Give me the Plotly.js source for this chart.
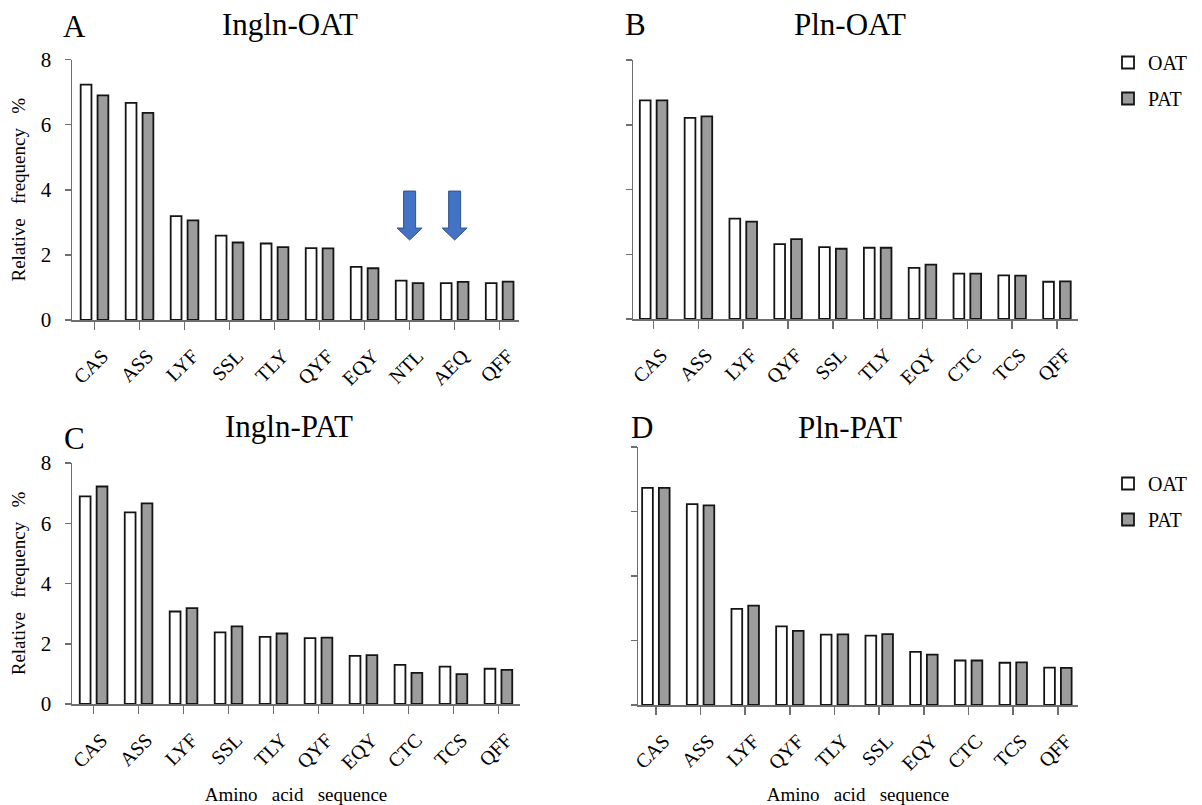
<!DOCTYPE html>
<html><head><meta charset="utf-8">
<script src="https://cdn.plot.ly/plotly-3.0.1.min.js"></script>
<style>html,body{margin:0;padding:0;background:#fff}#chart{width:1202px;height:805px}</style>
</head><body><div id="chart"></div>
<script>
// ---- data ----
const seriesNames = ['OAT', 'PAT'];
const panelTitles = ['Ingln-OAT', 'Pln-OAT', 'Ingln-PAT', 'Pln-PAT'];
const panelLetters = ['A', 'B', 'C', 'D'];
const yTicks = [0, 2, 4, 6, 8];

const catsA = ['CAS','ASS','LYF','SSL','TLY','QYF','EQY','NTL','AEQ','QFF'];
const oatA  = [7.23, 6.67, 3.19, 2.59, 2.35, 2.21, 1.63, 1.21, 1.13, 1.13];
const patA  = [6.90, 6.36, 3.06, 2.38, 2.24, 2.20, 1.59, 1.13, 1.17, 1.18];

const catsB = ['CAS','ASS','LYF','QYF','SSL','TLY','EQY','CTC','TCS','QFF'];
const oatB  = [6.75, 6.21, 3.10, 2.31, 2.22, 2.20, 1.58, 1.40, 1.35, 1.15];
const patB  = [6.75, 6.26, 3.01, 2.47, 2.17, 2.20, 1.68, 1.40, 1.34, 1.16];

const catsC = ['CAS','ASS','LYF','SSL','TLY','QYF','EQY','CTC','TCS','QFF'];
const oatC  = [6.89, 6.36, 3.07, 2.38, 2.23, 2.19, 1.60, 1.30, 1.24, 1.17];
const patC  = [7.22, 6.66, 3.18, 2.58, 2.34, 2.20, 1.62, 1.03, 0.99, 1.13];

const catsD = ['CAS','ASS','LYF','QYF','TLY','SSL','EQY','CTC','TCS','QFF'];
const oatD  = [6.73, 6.23, 2.98, 2.44, 2.18, 2.15, 1.65, 1.38, 1.31, 1.16];
const patD  = [6.73, 6.19, 3.08, 2.30, 2.19, 2.20, 1.56, 1.38, 1.32, 1.15];

const arrowCats = ['NTL', 'AEQ'];  // highlighted in panel A

// ---- helpers ----
const W = 1202, H = 805;
const FONT = 'Liberation Serif, Times New Roman, serif';
const px = v => v / W;
const py = v => 1 - v / H;
const OAT_FILL = '#ffffff', PAT_FILL = '#9c9c9c';
const AX = '#6e6e6e';

function pair(cats, oat, pat, n, legendId) {
  const suf = n === 1 ? '' : String(n);
  const common = {type: 'bar', xaxis: 'x' + suf, yaxis: 'y' + suf, hoverinfo: 'x+y'};
  const show = !!legendId;
  return [
    Object.assign({}, common, {name: seriesNames[0], x: cats, y: oat,
      marker: {color: OAT_FILL, line: {color: '#151515', width: 1.8}},
      showlegend: show, legend: legendId || 'legend', legendgroup: (legendId || 'n') + 'o'}),
    Object.assign({}, common, {name: seriesNames[1], x: cats, y: pat,
      marker: {color: PAT_FILL, line: {color: '#151515', width: 1.8}},
      showlegend: show, legend: legendId || 'legend', legendgroup: (legendId || 'n') + 'p'})
  ];
}

const data = [].concat(
  pair(catsA, oatA, patA, 1, null),
  pair(catsB, oatB, patB, 2, 'legend'),
  pair(catsC, oatC, patC, 3, null),
  pair(catsD, oatD, patD, 4, 'legend2')
);

function xax(l, r, range, anchor, title) {
  const a = {domain: [px(l), px(r)], anchor: anchor, type: 'category', range: range,
    showline: true, linecolor: AX, linewidth: 1.5, ticks: 'outside', ticklen: 8,
    tickcolor: AX, tickwidth: 1.5, tickangle: -45, ticklabelshift: 8, ticklabelstandoff: 7,
    tickfont: {family: FONT, size: 20, color: '#000'},
    showgrid: false, zeroline: false, fixedrange: true};
  if (title) a.title = {text: title, font: {family: FONT, size: 19, color: '#000'}, standoff: 18};
  return a;
}
function yax(top, bottom, anchor, labels, title) {
  const a = {domain: [py(bottom), py(top)], anchor: anchor, range: [0, 8],
    tickvals: yTicks, showticklabels: labels, ticks: 'outside', ticklen: 6,
    tickcolor: AX, tickwidth: 1.5, showline: true, linecolor: AX, linewidth: 1.5,
    ticklabelstandoff: 9,
    tickfont: {family: FONT, size: 21, color: '#000'},
    showgrid: false, zeroline: false, fixedrange: true};
  if (title) a.title = {text: title, font: {family: FONT, size: 19, color: '#000'}, standoff: 10};
  return a;
}

const yTitle = 'Relative\u00a0\u00a0\u00a0frequency\u00a0\u00a0\u00a0%';
const xTitle = 'Amino\u00a0\u00a0\u00a0acid\u00a0\u00a0\u00a0sequence';

const annotations = [];
const titlePos = [[290, 24], [850, 24], [289, 426], [850, 428]];
const letterPos = [[74, 27], [635, 25], [74, 438], [642, 428]];
panelTitles.forEach((t, i) => {
  annotations.push({text: t, xref: 'paper', yref: 'paper', x: px(titlePos[i][0]), y: py(titlePos[i][1]),
    xanchor: 'center', yanchor: 'middle', showarrow: false, font: {family: FONT, size: 31, color: '#000'}});
  annotations.push({text: panelLetters[i], xref: 'paper', yref: 'paper', x: px(letterPos[i][0]), y: py(letterPos[i][1]),
    xanchor: 'center', yanchor: 'middle', showarrow: false, font: {family: FONT, size: 31, color: '#000'}});
});

const shapes = arrowCats.map(c => ({
  type: 'path', xref: 'x', yref: 'y', xsizemode: 'pixel', ysizemode: 'pixel',
  xanchor: c, yanchor: 3.96,
  path: 'M-6,0 L6,0 L6,-37 L12.5,-37 L0,-49 L-12.5,-37 L-6,-37 Z',
  fillcolor: '#4472C4', line: {color: '#2F528F', width: 1}
}));

const legendBase = {xanchor: 'left', yanchor: 'top', bgcolor: 'rgba(0,0,0,0)',
  font: {family: FONT, size: 20, color: '#000'}, tracegroupgap: 7, traceorder: 'grouped'};

const layout = {
  width: W, height: H, margin: {l: 0, r: 0, t: 0, b: 0},
  paper_bgcolor: '#fff', plot_bgcolor: '#fff',
  barmode: 'group', bargap: 0.25, bargroupgap: 0.36,
  font: {family: FONT, color: '#000'},
  xaxis:  xax(72, 519, [-0.50, 9.43], 'y'),
  yaxis:  yax(59.5, 320, 'x', true, yTitle),
  xaxis2: xax(633, 1078, [-0.46, 9.47], 'y2'),
  yaxis2: yax(60, 319, 'x2', false),
  xaxis3: xax(72, 520, [-0.48, 9.48], 'y3', xTitle),
  yaxis3: yax(463, 704, 'x3', true, yTitle),
  xaxis4: xax(638, 1078, [-0.40, 9.45], 'y4', xTitle),
  yaxis4: yax(447, 705, 'x4', false),
  legend:  Object.assign({}, legendBase, {x: px(1108), y: py(43)}),
  legend2: Object.assign({}, legendBase, {x: px(1108), y: py(464)}),
  annotations: annotations,
  shapes: shapes,
  showlegend: true
};

Plotly.newPlot('chart', data, layout, {displayModeBar: false, staticPlot: true});
</script></body></html>
